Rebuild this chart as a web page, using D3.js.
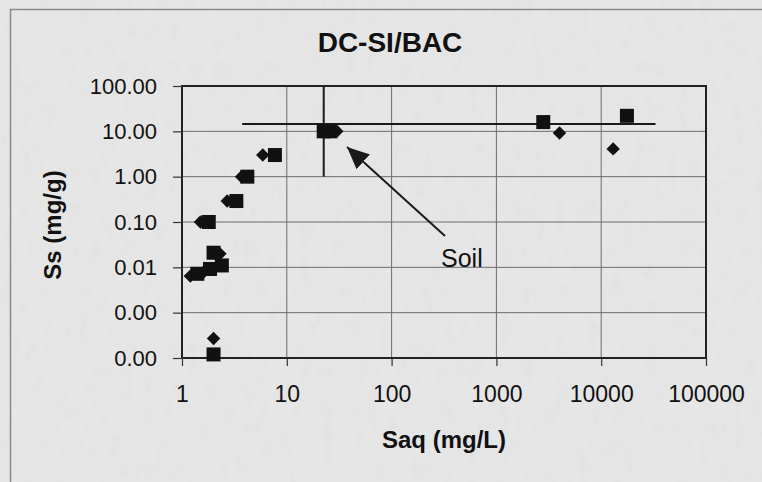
<!DOCTYPE html>
<html>
<head>
<meta charset="utf-8">
<script src="https://cdn.jsdelivr.net/npm/d3@7"></script>
<style>
  html, body { margin: 0; padding: 0; background: #e5e5e5; }
  svg { display: block; }
  text { font-family: Arial, "Liberation Sans", sans-serif; fill: #111; }
</style>
</head>
<body>
<script>
// Sorption data: aqueous concentration Saq (mg/L) vs. sorbed Ss (mg/g)
const diamondSaq = [1.2, 1.6, 2.0, 2.3, 1.5, 2.7, 3.7, 5.9, 30, 2.0, 4000, 13000];
const diamondSs  = [0.0064, 0.0078, 0.0095, 0.02, 0.1, 0.29, 1.0, 3.0, 10.0, 0.00027, 9.2, 4.1];

const squareSaq = [1.4, 1.85, 2.4, 2.0, 1.8, 3.3, 4.2, 7.7, 22.5, 26, 2.0, 2800, 17600];
const squareSs  = [0.0072, 0.0092, 0.011, 0.021, 0.1, 0.29, 1.0, 3.0, 10.0, 10.0, 0.00012, 16, 22];

// Soil reference lines
const soilSaq = 22.5;
const soilSs = 14.5;
const soilLineSaqRange = [3.75, 33000];
const soilLineSsRange = [1, 100];

const xTicks = [1, 10, 100, 1000, 10000, 100000];
const yTicks = [100, 10, 1, 0.1, 0.01, 0.001, 0.0001];

const W = 762, H = 482;
const plot = { left: 182, right: 706, top: 86, bottom: 358 };

const svg = d3.select("body").append("svg").attr("width", W).attr("height", H);

// paper grain
const defs = svg.append("defs");
const f = defs.append("filter").attr("id", "grain").attr("x", 0).attr("y", 0).attr("width", "100%").attr("height", "100%");
f.append("feTurbulence").attr("type", "fractalNoise").attr("baseFrequency", "0.09 0.05").attr("numOctaves", 3).attr("seed", 7).attr("result", "n");
f.append("feColorMatrix").attr("in", "n").attr("type", "matrix")
  .attr("values", "0 0 0 0 0.5  0 0 0 0 0.5  0 0 0 0 0.5  0 0 0 -1 0.55").attr("result", "m");
f.append("feComposite").attr("in", "m").attr("in2", "SourceGraphic").attr("operator", "in");

svg.append("rect").attr("width", W).attr("height", H).attr("fill", "#e6e6e6");
svg.append("rect").attr("width", W).attr("height", H).attr("fill", "#fff").attr("filter", "url(#grain)").attr("opacity", 0.2);

// outer frame (top and left edges)
svg.append("path").attr("d", `M10.5,${H} V9.5 H${W}`).attr("fill", "none").attr("stroke", "#8a8a8a").attr("stroke-width", 1.5);

const x = d3.scaleLog().domain([1, 100000]).range([plot.left, plot.right]);
const y = d3.scaleLog().domain([0.0001, 100]).range([plot.bottom, plot.top]);

// grid
const grid = svg.append("g").attr("stroke", "#6c6c6c").attr("stroke-width", 1);
grid.selectAll("line.v").data(xTicks.slice(1, -1)).join("line")
  .attr("x1", d => x(d)).attr("x2", d => x(d)).attr("y1", plot.top).attr("y2", plot.bottom);
grid.selectAll("line.h").data(yTicks.slice(1, -1)).join("line")
  .attr("y1", d => y(d)).attr("y2", d => y(d)).attr("x1", plot.left).attr("x2", plot.right);

// plot border
svg.append("rect").attr("x", plot.left).attr("y", plot.top)
  .attr("width", plot.right - plot.left).attr("height", plot.bottom - plot.top)
  .attr("fill", "none").attr("stroke", "#222").attr("stroke-width", 2);

// axes
const yFmt = d => d3.format(".2f")(d);
const yAxis = svg.append("g").attr("transform", `translate(${plot.left},0)`)
  .call(d3.axisLeft(y).tickValues(yTicks).tickFormat(yFmt).tickSize(9).tickPadding(16));
const xAxis = svg.append("g").attr("transform", `translate(0,${plot.bottom})`)
  .call(d3.axisBottom(x).tickValues(xTicks).tickFormat(d3.format("d")).tickSize(8).tickPadding(20));
[yAxis, xAxis].forEach(a => {
  a.select(".domain").remove();
  a.selectAll(".tick line").attr("stroke", "#333").attr("stroke-width", 1.2);
  a.selectAll(".tick text").attr("fill", "#111")
    .attr("font-family", "Arial, 'Liberation Sans', sans-serif");
});
yAxis.selectAll(".tick text").attr("font-size", 22);
xAxis.selectAll(".tick text").attr("font-size", 23);

// soil reference lines
svg.append("line").attr("x1", x(soilLineSaqRange[0])).attr("x2", x(soilLineSaqRange[1]))
  .attr("y1", y(soilSs)).attr("y2", y(soilSs)).attr("stroke", "#1a1a1a").attr("stroke-width", 2);
svg.append("line").attr("x1", x(soilSaq)).attr("x2", x(soilSaq))
  .attr("y1", y(soilLineSsRange[0])).attr("y2", y(soilLineSsRange[1])).attr("stroke", "#1a1a1a").attr("stroke-width", 2);

// markers
const diamond = d3.symbol().type(d3.symbolDiamond2).size(115);
svg.append("g").selectAll("path").data(d3.zip(diamondSaq, diamondSs)).join("path")
  .attr("d", diamond).attr("transform", d => `translate(${x(d[0])},${y(d[1])})`).attr("fill", "#111");
svg.append("g").selectAll("rect").data(d3.zip(squareSaq, squareSs)).join("rect")
  .attr("x", d => x(d[0]) - 7).attr("y", d => y(d[1]) - 7).attr("width", 14).attr("height", 14).attr("fill", "#111");

// annotation arrow
defs.append("marker").attr("id", "head").attr("viewBox", "0 0 10 10").attr("refX", 10).attr("refY", 5)
  .attr("markerWidth", 22).attr("markerHeight", 20).attr("markerUnits", "userSpaceOnUse")
  .attr("orient", "auto").attr("preserveAspectRatio", "none")
  .append("path").attr("d", "M0,0 L10,5 L0,10 Z").attr("fill", "#1a1a1a");
svg.append("line").attr("x1", 445).attr("y1", 236).attr("x2", 347).attr("y2", 147)
  .attr("stroke", "#1a1a1a").attr("stroke-width", 2).attr("marker-end", "url(#head)");
svg.append("text").attr("x", 441).attr("y", 267).attr("font-size", 25).text("Soil");

// titles
svg.append("text").attr("x", 390).attr("y", 52).attr("text-anchor", "middle")
  .attr("font-size", 28).attr("font-weight", "bold").text("DC-SI/BAC");
svg.append("text").attr("x", 444).attr("y", 448).attr("text-anchor", "middle")
  .attr("font-size", 24).attr("font-weight", "bold").text("Saq (mg/L)");
svg.append("text").attr("transform", "translate(61,225) rotate(-90)").attr("text-anchor", "middle")
  .attr("font-size", 24).attr("font-weight", "bold").text("Ss (mg/g)");
</script>
</body>
</html>
